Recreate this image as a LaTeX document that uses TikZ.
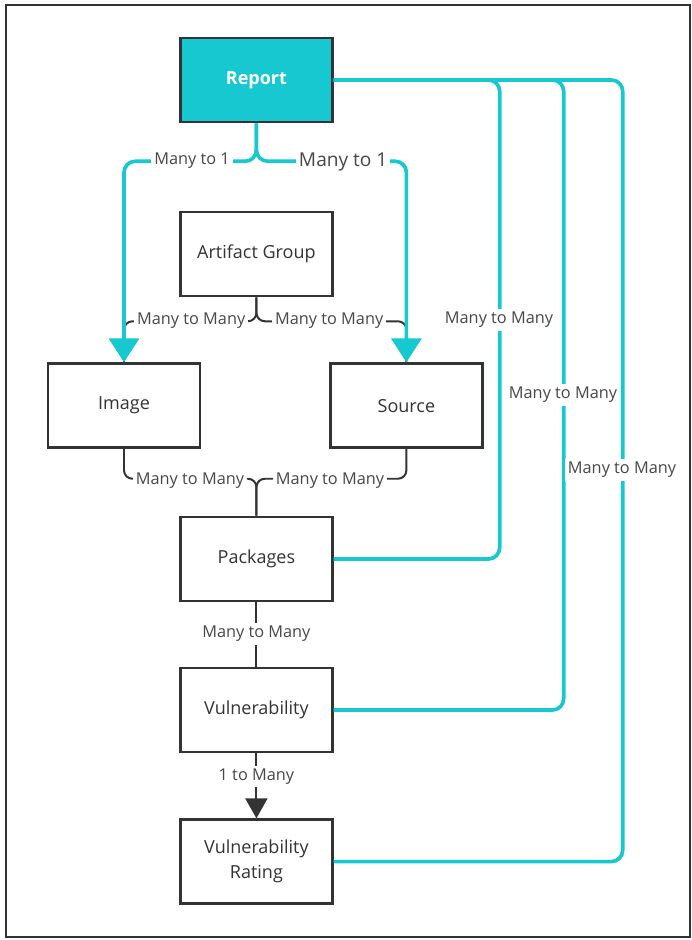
\documentclass[tikz,border=0pt]{standalone}
\usepackage{fontspec}
\setmainfont{Open Sans}
\usetikzlibrary{arrows.meta, positioning, calc}
\definecolor{teal1}{RGB}{23,200,208}
\definecolor{ink}{RGB}{51,51,51}

\begin{document}
\begin{tikzpicture}[
  ebox/.style={rectangle, draw=ink, line width=1.8pt, fill=white,
               minimum width=3.8cm, minimum height=2.1cm,
               align=center, font=\fontsize{12.8}{18}\selectfont, text=ink},
  rbox/.style={ebox, fill=teal1, text=white,
               font=\fontsize{12.8}{18}\selectfont\bfseries},
  rel/.style={draw=ink, line width=1.4pt, rounded corners=6pt},
  crel/.style={draw=teal1, line width=2.6pt, rounded corners=8pt},
  lbl/.style={fill=white, inner sep=2pt, text=ink!90,
              font=\fontsize{11.6}{14}\selectfont},
  carr/.style={-{Triangle[width=0.75cm, length=0.6cm]}},
  darr/.style={-{Triangle[width=0.55cm, length=0.5cm]}}
]
\useasboundingbox (0,0) rectangle (17.3,-23.5);
\draw[ink, line width=1.2pt] (0.15,-0.125) rectangle (17.25,-23.425);

\node[rbox] (report)   at (6.41, -2.0)   {Report};
\node[ebox] (artifact) at (6.41, -6.35)  {Artifact Group};
\node[ebox] (image)    at (3.1, -10.14)  {Image};
\node[ebox] (source)   at (10.16,-10.14) {Source};
\node[ebox] (packages) at (6.41,-13.975) {Packages};
\node[ebox] (vuln)     at (6.41,-17.75)  {Vulnerability};
\node[ebox] (rating)   at (6.41,-21.54)  {Vulnerability\\Rating};

% dark relations
\draw[rel] (artifact.south) -- ++(0,-0.6) -| (image.north);
\draw[rel] (artifact.south) -- ++(0,-0.6) -| (source.north);
\draw[rel] (image.south) |- ($(packages.north)+(0,0.925)$) -- (packages.north);
\draw[rel] (source.south) |- ($(packages.north)+(0,0.925)$) -- (packages.north);
\draw[rel] (packages) -- (vuln);
\draw[rel, darr] (vuln) -- (rating);

% report relations
\draw[crel, carr] (report.south) -- ++(0,-0.95) -| (image.north);
\draw[crel, carr] (report.south) -- ++(0,-0.95) -| (source.north);
\draw[crel] (report.east) -| ($(packages.east)+(4.15,0)$) -- (packages.east);
\draw[crel] (report.east) -| ($(vuln.east)+(5.75,0)$) -- (vuln.east);
\draw[crel] (report.east) -| ($(rating.east)+(7.225,0)$) -- (rating.east);

% labels
\node[lbl] (l1) at (4.8,-4.02) {Many to 1};
\node[lbl, font=\fontsize{13.6}{16}\selectfont] (l2) at (8.58,-4.05) {Many to 1};
\node[lbl] (l3) at (4.78,-8.02) {Many to Many};
\node[lbl] (l4) at (8.23,-8.02) {Many to Many};
\node[lbl] (l5) at (4.75,-12.02) {Many to Many};
\node[lbl] (l6) at (8.25,-12.02) {Many to Many};
\node[lbl] (l7) at (6.41,-15.85) {Many to Many};
\node[lbl] (l8) at (6.41,-19.42) {1 to Many};
\node[lbl] (l9) at (12.475,-8.0) {Many to Many};
\node[lbl] (l10) at (14.075,-9.875) {Many to Many};
\node[lbl] (l11) at (15.55,-11.75) {Many to Many};
\end{tikzpicture}
\end{document}
